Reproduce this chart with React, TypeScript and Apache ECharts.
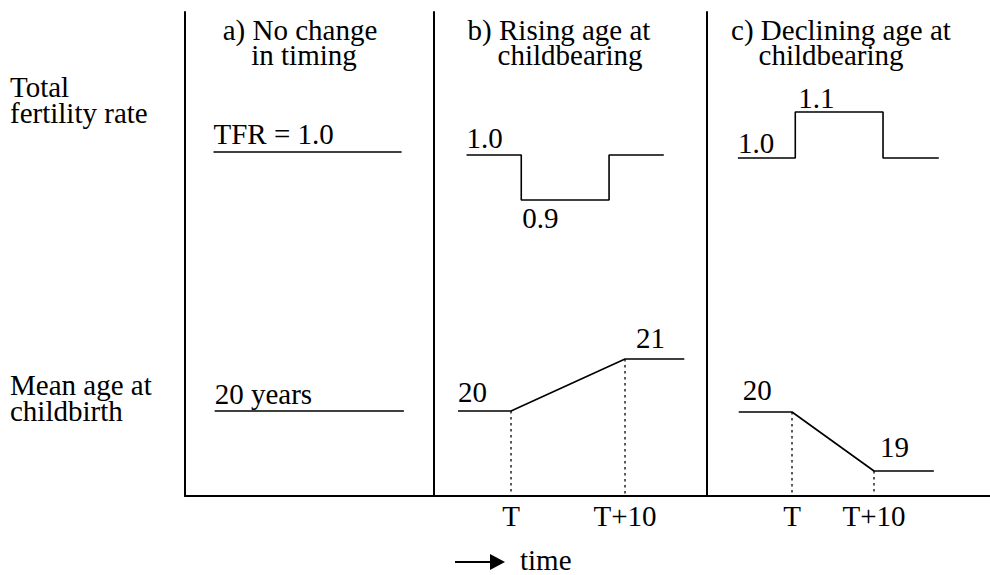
import React, { useEffect, useRef } from "react";
import * as echarts from "echarts";

// ---------------- DATA ----------------
const PANEL_TITLES = [
  ["a) No change", "in timing"],
  ["b) Rising age at", "childbearing"],
  ["c) Declining age at", "childbearing"],
];
const ROW_LABELS = [
  ["Total", "fertility rate"],
  ["Mean age at", "childbirth"],
];
const TIME_TICKS = [0, 10];
const TIME_TICK_LABELS = ["T", "T+10"];
const TIME_WORD = "time";

// Panel a: no change in timing (time in years relative to a reference)
const TFR_A_TIME = [-5.5, 11.0];
const TFR_A = [1.0, 1.0];
const AGE_A_TIME = [-5.4, 11.2];
const AGE_A = [20, 20];

// Panel b: rising age at childbearing
const TFR_B_TIME = [-3.9, 0.9, 0.9, 8.6, 8.6, 13.4];
const TFR_B = [1.0, 1.0, 0.9, 0.9, 1.0, 1.0];
const AGE_B_TIME = [-4.65, 0, 10, 15.2];
const AGE_B = [20, 20, 21, 21];

// Panel c: declining age at childbearing
const TFR_C_TIME = [-6.6, 0.4, 0.4, 11.1, 11.1, 17.9];
const TFR_C = [1.0, 1.0, 1.1, 1.1, 1.0, 1.0];
const AGE_C_TIME = [-6.5, 0, 10, 17.3];
const AGE_C = [20, 20, 19, 19];

// ---------------- LAYOUT ----------------
const FONT = "'Liberation Serif', 'Times New Roman', Times, 'DejaVu Serif', serif";
const FS = 29;
const INK = "#000";
const GRID_TOP = 12;
const GRID_BOTTOM = 79;
const GRIDS = [
  { left: 185, width: 249 },
  { left: 434, width: 273 },
  { left: 707, width: 283 },
];
const X_RANGES = [
  [-8, 13.84],
  [-6.754, 17.19],
  [-10.366, 24.146],
];
const TFR_RANGES = [
  [0.2356, 1.3111],
  [0.2422, 1.3178],
  [0.2652, 1.3174],
];
const AGE_RANGES = [
  [18.365, 27.673],
  [18.365, 27.673],
  [18.576, 26.779],
];

type Lab = { i: number; text: string; offset: number[] };

function pts(t: number[], v: number[], labels: Lab[]) {
  return t.map((x, i) => {
    const item: any = { value: [x, v[i]] };
    const l = labels.find((q) => q.i === i);
    if (l) item.label = { show: true, formatter: l.text, offset: l.offset };
    return item;
  });
}

const fmt1 = (v: number) => v.toFixed(1);

export default function App() {
  const ref = useRef<HTMLDivElement>(null);
  useEffect(() => {
    if (!ref.current) return;
    const chart = echarts.init(ref.current, undefined, { renderer: "svg" });

    const grid = GRIDS.map((g) => ({
      left: g.left,
      width: g.width,
      top: GRID_TOP,
      bottom: GRID_BOTTOM,
      outerBoundsMode: "none",
    }));

    const xAxis = GRIDS.map((_, p) => ({
      type: "value",
      gridIndex: p,
      min: X_RANGES[p][0],
      max: X_RANGES[p][1],
      axisLine: { show: true, onZero: false, lineStyle: { color: INK, width: 2 } },
      axisTick: { show: false },
      splitLine: { show: false },
      axisLabel:
        p === 0
          ? { show: false }
          : {
              show: true,
              customValues: TIME_TICKS,
              formatter: (v: number) => TIME_TICK_LABELS[TIME_TICKS.indexOf(v)] ?? "",
              margin: 5,
              color: INK,
              fontFamily: FONT,
              fontSize: FS,
              showMinLabel: true,
              showMaxLabel: true,
            },
    }));

    const yAxis: any[] = [];
    GRIDS.forEach((_, p) => {
      yAxis.push({
        type: "value",
        gridIndex: p,
        position: "left",
        min: TFR_RANGES[p][0],
        max: TFR_RANGES[p][1],
        axisLine: { show: true, onZero: false, lineStyle: { color: INK, width: 2 } },
        axisTick: { show: false },
        axisLabel: { show: false },
        splitLine: { show: false },
      });
      yAxis.push({
        type: "value",
        gridIndex: p,
        position: "right",
        show: false,
        min: AGE_RANGES[p][0],
        max: AGE_RANGES[p][1],
        splitLine: { show: false },
      });
    });

    const baseLabel = {
      show: false,
      position: "top",
      distance: 0,
      align: "left",
      verticalAlign: "middle",
      fontFamily: FONT,
      fontSize: FS,
      color: INK,
    };
    const lineSeries = (p: number, isAge: boolean, data: any[]) => ({
      type: "line",
      xAxisIndex: p,
      yAxisIndex: 2 * p + (isAge ? 1 : 0),
      data,
      symbol: "circle",
      symbolSize: 0,
      showSymbol: true,
      itemStyle: { color: INK },
      lineStyle: { color: INK, width: 1.6 },
      label: baseLabel,
      silent: true,
      z: 3,
    });
    const guide = (p: number, x: number, y: number) => ({
      type: "line",
      xAxisIndex: p,
      yAxisIndex: 2 * p + 1,
      data: [
        [x, y],
        [x, AGE_RANGES[p][0]],
      ],
      symbol: "none",
      lineStyle: { color: INK, width: 1.3, type: [2.5, 3.5] },
      silent: true,
      z: 2,
    });

    const series = [
      lineSeries(0, false, pts(TFR_A_TIME, TFR_A, [{ i: 0, text: `TFR = ${fmt1(TFR_A[0])}`, offset: [0, -17.8] }])),
      lineSeries(0, true, pts(AGE_A_TIME, AGE_A, [{ i: 0, text: `${AGE_A[0]} years`, offset: [0, -16.8] }])),
      lineSeries(
        1,
        false,
        pts(TFR_B_TIME, TFR_B, [
          { i: 0, text: fmt1(TFR_B[0]), offset: [0, -16.8] },
          { i: 2, text: fmt1(TFR_B[2]), offset: [1, 18.2] },
        ])
      ),
      lineSeries(
        1,
        true,
        pts(AGE_B_TIME, AGE_B, [
          { i: 0, text: String(AGE_B[0]), offset: [0, -18.8] },
          { i: 2, text: String(AGE_B[2]), offset: [11, -20.8] },
        ])
      ),
      lineSeries(
        2,
        false,
        pts(TFR_C_TIME, TFR_C, [
          { i: 0, text: fmt1(TFR_C[0]), offset: [0, -14.8] },
          { i: 2, text: fmt1(TFR_C[2]), offset: [3, -13.8] },
        ])
      ),
      lineSeries(
        2,
        true,
        pts(AGE_C_TIME, AGE_C, [
          { i: 0, text: String(AGE_C[0]), offset: [4, -21.8] },
          { i: 2, text: String(AGE_C[2]), offset: [6, -23.8] },
        ])
      ),
      guide(1, AGE_B_TIME[1], AGE_B[1]),
      guide(1, AGE_B_TIME[2], AGE_B[2]),
      guide(2, AGE_C_TIME[1], AGE_C[1]),
      guide(2, AGE_C_TIME[2], AGE_C[2]),
    ];

    const txt = (text: string, x: number, y: number, align: string) => ({
      type: "text",
      x,
      y,
      silent: true,
      style: {
        text,
        fontFamily: FONT,
        fontSize: FS,
        fill: INK,
        align,
        verticalAlign: "middle",
        textAlign: align,
        textVerticalAlign: "middle",
      },
    });

    const TITLE_CENTERS = [
      [300, 304],
      [559, 570],
      [841, 831],
    ];
    const TITLE_Y = [30, 55];
    const ROW_Y = [
      [87, 113],
      [385, 411],
    ];

    const graphic: any[] = [];
    PANEL_TITLES.forEach((lines, p) =>
      lines.forEach((l, k) => graphic.push(txt(l, TITLE_CENTERS[p][k], TITLE_Y[k], "center")))
    );
    ROW_LABELS.forEach((lines, r) => lines.forEach((l, k) => graphic.push(txt(l, 10, ROW_Y[r][k], "left"))));
    graphic.push({
      type: "line",
      silent: true,
      shape: { x1: 455, y1: 562, x2: 494, y2: 562 },
      style: { stroke: INK, lineWidth: 2 },
    });
    graphic.push({
      type: "polygon",
      silent: true,
      shape: { points: [[490, 554], [505, 562], [490, 570]] },
      style: { fill: INK },
    });
    graphic.push(txt(TIME_WORD, 520, 560, "left"));

    chart.setOption({
      animation: false,
      backgroundColor: "#fff",
      textStyle: { fontFamily: FONT },
      grid,
      xAxis,
      yAxis,
      series,
      graphic,
    });
    return () => chart.dispose();
  }, []);

  return (
    <div
      ref={ref}
      style={{ position: "fixed", left: 0, top: 0, width: 990, height: 575, background: "#fff" }}
    />
  );
}
